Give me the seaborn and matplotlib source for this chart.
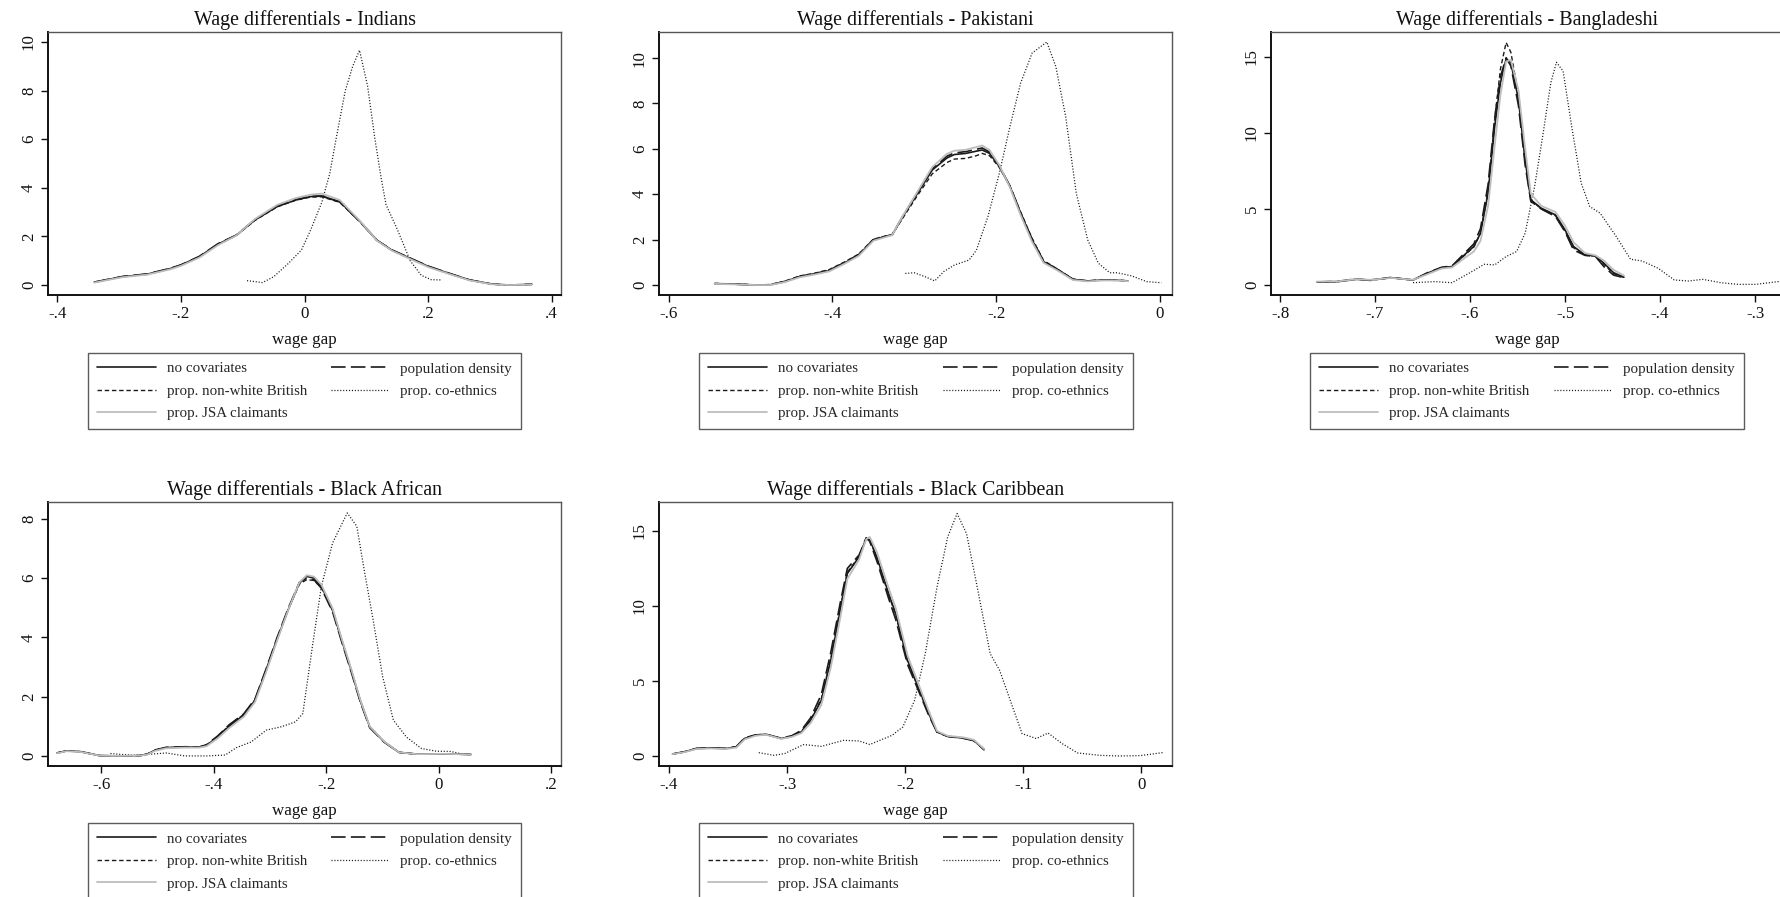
import numpy as np
import pandas as pd
import matplotlib.pyplot as plt
import seaborn as sns
from matplotlib.lines import Line2D
from matplotlib.ticker import FuncFormatter

sns.set_style('ticks')
plt.rcParams['font.family'] = ['Liberation Serif', 'DejaVu Serif']
plt.rcParams['lines.scale_dashes'] = False

# Series names (legend)
labels = {
    'none': 'no covariates',
    'dens': 'population density',
    'nonwhite': 'prop. non-white British',
    'coeth': 'prop. co-ethnics',
    'jsa': 'prop. JSA claimants',
}

# ---- Indians ----
ind_x = [-0.340, -0.295, -0.254, -0.218, -0.200, -0.170, -0.140, -0.110, -0.080, -0.044, -0.014, 0.010,
         0.028, 0.057, 0.090, 0.117, 0.141, 0.177, 0.201, 0.237, 0.267, 0.303, 0.332, 0.368]
ind_none = [0.12, 0.34, 0.45, 0.67, 0.82, 1.17, 1.68, 2.05, 2.68, 3.23, 3.50, 3.64,
            3.66, 3.43, 2.61, 1.85, 1.44, 1.03, 0.76, 0.45, 0.21, 0.04, 0.00, 0.03]
ind_dens = [0.12, 0.35, 0.46, 0.68, 0.83, 1.18, 1.70, 2.06, 2.70, 3.25, 3.52, 3.65,
            3.66, 3.42, 2.60, 1.84, 1.45, 1.04, 0.77, 0.46, 0.21, 0.04, 0.00, 0.03]
ind_nonwhite = [0.11, 0.34, 0.44, 0.66, 0.81, 1.16, 1.67, 2.04, 2.66, 3.22, 3.49, 3.62,
                3.63, 3.40, 2.59, 1.84, 1.43, 1.02, 0.75, 0.44, 0.20, 0.04, 0.00, 0.03]
ind_jsa = [0.10, 0.32, 0.43, 0.64, 0.79, 1.13, 1.64, 2.04, 2.72, 3.30, 3.58, 3.72,
           3.76, 3.50, 2.63, 1.83, 1.42, 1.00, 0.73, 0.43, 0.19, 0.03, 0.00, 0.02]
ind_co_x = [-0.093, -0.080, -0.068, -0.050, -0.026, -0.005, 0.010, 0.028, 0.041, 0.051, 0.066,
            0.078, 0.089, 0.102, 0.114, 0.124, 0.132, 0.150, 0.171, 0.189, 0.205, 0.222]
ind_co = [0.18, 0.14, 0.10, 0.34, 0.89, 1.44, 2.27, 3.40, 4.60, 6.00, 8.00,
          9.00, 9.66, 8.20, 6.00, 4.40, 3.30, 2.30, 1.00, 0.40, 0.22, 0.21]

# ---- Pakistani ----
pak_x = [-0.544, -0.521, -0.494, -0.476, -0.458, -0.440, -0.422, -0.404, -0.386, -0.368, -0.350,
         -0.336, -0.327, -0.314, -0.296, -0.278, -0.260, -0.251, -0.237, -0.224, -0.217, -0.208,
         -0.196, -0.183, -0.170, -0.156, -0.142, -0.124, -0.106, -0.088, -0.070, -0.052, -0.039]
pak_none = [0.06, 0.04, 0.00, 0.01, 0.15, 0.37, 0.49, 0.63, 0.96, 1.32, 1.99,
            2.13, 2.21, 3.01, 4.04, 5.07, 5.60, 5.75, 5.80, 5.90, 5.95, 5.80,
            5.22, 4.34, 3.16, 1.99, 1.03, 0.66, 0.25, 0.18, 0.22, 0.21, 0.18]
pak_dens = [0.06, 0.04, 0.00, 0.01, 0.16, 0.38, 0.50, 0.65, 0.98, 1.34, 2.00,
            2.14, 2.22, 3.03, 4.08, 5.12, 5.68, 5.82, 5.88, 5.98, 6.04, 5.86,
            5.25, 4.36, 3.18, 2.02, 1.05, 0.67, 0.25, 0.18, 0.22, 0.21, 0.18]
pak_nonwhite = [0.07, 0.05, 0.01, 0.02, 0.17, 0.40, 0.52, 0.68, 1.00, 1.36, 2.02,
                2.15, 2.22, 2.95, 3.95, 4.90, 5.40, 5.55, 5.58, 5.70, 5.80, 5.70,
                5.18, 4.36, 3.22, 2.06, 1.08, 0.68, 0.26, 0.18, 0.22, 0.21, 0.18]
pak_jsa = [0.05, 0.03, 0.00, 0.00, 0.13, 0.34, 0.46, 0.60, 0.92, 1.28, 1.95,
           2.10, 2.20, 3.05, 4.12, 5.20, 5.78, 5.92, 5.96, 6.08, 6.15, 5.95,
           5.28, 4.30, 3.08, 1.90, 0.98, 0.62, 0.22, 0.16, 0.20, 0.20, 0.17]
pak_co_x = [-0.311, -0.300, -0.287, -0.275, -0.264, -0.251, -0.233, -0.224, -0.210, -0.196, -0.183, -0.170,
            -0.156, -0.138, -0.127, -0.115, -0.102, -0.088, -0.075, -0.061, -0.052, -0.034, -0.016, 0.002]
pak_co = [0.51, 0.54, 0.37, 0.18, 0.59, 0.88, 1.10, 1.54, 3.01, 4.93, 6.99, 8.90,
          10.22, 10.71, 9.63, 7.43, 4.04, 1.99, 0.96, 0.54, 0.54, 0.40, 0.15, 0.10]

# ---- Bangladeshi ----
bgd_x = [-0.761, -0.739, -0.720, -0.705, -0.683, -0.660, -0.645, -0.630, -0.619, -0.604, -0.596,
         -0.589, -0.581, -0.574, -0.568, -0.562, -0.557, -0.549, -0.542, -0.536, -0.525, -0.510,
         -0.500, -0.491, -0.479, -0.468, -0.459, -0.449, -0.438]
bgd_none = [0.20, 0.22, 0.37, 0.33, 0.48, 0.33, 0.77, 1.14, 1.21, 2.09, 2.53,
            3.40, 6.04, 10.43, 13.29, 14.87, 14.61, 12.19, 8.24, 5.60, 5.05, 4.61,
            3.62, 2.53, 1.98, 1.91, 1.43, 0.81, 0.51]
bgd_dens = [0.20, 0.24, 0.40, 0.30, 0.50, 0.32, 0.80, 1.16, 1.25, 2.20, 2.70,
            3.70, 6.60, 11.00, 13.70, 14.95, 14.40, 11.80, 7.90, 5.50, 5.00, 4.50,
            3.50, 2.30, 1.95, 1.88, 1.20, 0.65, 0.48]
bgd_nonwhite = [0.18, 0.22, 0.38, 0.32, 0.46, 0.32, 0.75, 1.10, 1.20, 2.05, 2.50,
                3.40, 6.20, 10.90, 14.20, 15.95, 15.30, 12.50, 8.30, 5.60, 5.00, 4.55,
                3.55, 2.45, 1.95, 1.90, 1.35, 0.75, 0.50]
bgd_jsa = [0.22, 0.24, 0.38, 0.34, 0.46, 0.34, 0.70, 1.08, 1.15, 1.85, 2.20,
           2.90, 5.20, 9.20, 12.50, 14.70, 14.80, 12.80, 9.00, 6.00, 5.20, 4.80,
           3.90, 2.80, 2.10, 1.95, 1.60, 1.00, 0.62]
bgd_co_x = [-0.660, -0.637, -0.619, -0.600, -0.585, -0.574, -0.562, -0.551, -0.542, -0.532,
            -0.523, -0.515, -0.509, -0.502, -0.493, -0.483, -0.474, -0.463, -0.446, -0.431,
            -0.419, -0.402, -0.385, -0.370, -0.355, -0.336, -0.318, -0.299, -0.276, -0.255]
bgd_co = [0.15, 0.22, 0.15, 0.81, 1.36, 1.32, 1.87, 2.20, 3.40, 6.48,
          9.99, 13.29, 14.65, 14.06, 10.43, 6.70, 5.16, 4.72, 3.18, 1.69,
          1.58, 1.10, 0.33, 0.26, 0.37, 0.15, 0.04, 0.04, 0.22, 0.25]

# ---- Black African ----
baf_x = [-0.679, -0.662, -0.636, -0.603, -0.570, -0.531, -0.518, -0.505, -0.485, -0.452, -0.426,
         -0.413, -0.393, -0.373, -0.347, -0.327, -0.307, -0.288, -0.268, -0.248, -0.235, -0.222,
         -0.209, -0.189, -0.173, -0.156, -0.140, -0.123, -0.097, -0.071, -0.038, 0.008, 0.057]
baf_none = [0.10, 0.17, 0.14, 0.01, 0.00, 0.01, 0.06, 0.19, 0.28, 0.30, 0.30,
            0.36, 0.64, 1.00, 1.38, 1.88, 2.90, 3.92, 4.93, 5.84, 6.06, 6.00,
            5.72, 4.93, 3.92, 2.90, 1.88, 0.98, 0.47, 0.12, 0.06, 0.07, 0.05]
baf_dens = [0.10, 0.17, 0.14, 0.01, 0.00, 0.01, 0.07, 0.20, 0.29, 0.31, 0.30,
            0.38, 0.68, 1.05, 1.42, 1.92, 2.95, 3.98, 4.98, 5.86, 6.00, 5.94,
            5.66, 4.86, 3.86, 2.84, 1.83, 0.95, 0.46, 0.12, 0.06, 0.07, 0.05]
baf_nonwhite = [0.10, 0.17, 0.14, 0.01, 0.00, 0.01, 0.06, 0.19, 0.28, 0.30, 0.30,
                0.37, 0.66, 1.03, 1.40, 1.90, 2.92, 3.94, 4.95, 5.80, 5.95, 5.92,
                5.68, 4.90, 3.90, 2.88, 1.86, 0.97, 0.47, 0.12, 0.06, 0.07, 0.05]
baf_jsa = [0.09, 0.16, 0.13, 0.01, 0.00, 0.01, 0.05, 0.17, 0.26, 0.28, 0.28,
           0.33, 0.60, 0.94, 1.32, 1.82, 2.84, 3.88, 4.92, 5.86, 6.10, 6.05,
           5.78, 4.98, 3.96, 2.94, 1.90, 0.99, 0.48, 0.12, 0.06, 0.07, 0.05]
baf_co_x = [-0.584, -0.544, -0.511, -0.485, -0.452, -0.413, -0.380, -0.360, -0.334, -0.307,
            -0.281, -0.255, -0.242, -0.225, -0.209, -0.189, -0.163, -0.146, -0.133, -0.117,
            -0.100, -0.081, -0.058, -0.031, -0.005, 0.021, 0.038]
baf_co = [0.08, 0.02, 0.06, 0.10, 0.00, 0.00, 0.03, 0.28, 0.47, 0.87,
          0.98, 1.15, 1.43, 3.69, 5.72, 7.19, 8.20, 7.75, 6.29, 4.59,
          2.67, 1.21, 0.64, 0.25, 0.16, 0.15, 0.08]

# ---- Black Caribbean ----
bca_x = [-0.397, -0.387, -0.377, -0.365, -0.352, -0.343, -0.336, -0.327, -0.318, -0.305, -0.296,
         -0.288, -0.280, -0.271, -0.263, -0.255, -0.249, -0.239, -0.233, -0.230, -0.224, -0.214,
         -0.208, -0.198, -0.189, -0.180, -0.173, -0.164, -0.151, -0.142, -0.133]
bca_none = [0.13, 0.27, 0.49, 0.53, 0.49, 0.60, 1.16, 1.38, 1.44, 1.16, 1.31,
            1.60, 2.38, 3.71, 6.38, 9.71, 12.16, 13.27, 14.49, 14.42, 13.27, 10.82,
            9.49, 6.38, 4.60, 2.82, 1.60, 1.31, 1.20, 1.04, 0.42]
bca_dens = [0.13, 0.28, 0.50, 0.54, 0.50, 0.62, 1.20, 1.40, 1.45, 1.18, 1.35,
            1.70, 2.55, 4.10, 6.90, 10.20, 12.50, 13.40, 14.55, 14.30, 13.00, 10.50,
            9.10, 6.10, 4.40, 2.70, 1.58, 1.30, 1.18, 1.02, 0.40]
bca_nonwhite = [0.13, 0.27, 0.49, 0.53, 0.49, 0.61, 1.17, 1.39, 1.44, 1.17, 1.32,
                1.63, 2.42, 3.80, 6.50, 9.85, 12.25, 13.30, 14.50, 14.40, 13.20, 10.75,
                9.40, 6.30, 4.55, 2.80, 1.60, 1.31, 1.20, 1.04, 0.42]
bca_jsa = [0.12, 0.25, 0.46, 0.50, 0.46, 0.56, 1.10, 1.34, 1.42, 1.14, 1.27,
           1.52, 2.20, 3.40, 5.90, 9.20, 11.80, 13.10, 14.45, 14.60, 13.60, 11.20,
           9.85, 6.70, 4.85, 3.00, 1.66, 1.34, 1.24, 1.08, 0.46]
bca_co_x = [-0.324, -0.311, -0.302, -0.286, -0.271, -0.252, -0.239, -0.230, -0.211, -0.202,
            -0.192, -0.183, -0.173, -0.164, -0.156, -0.148, -0.139, -0.128, -0.120, -0.111,
            -0.101, -0.089, -0.079, -0.067, -0.054, -0.035, -0.020, -0.001, 0.018]
bca_co = [0.22, 0.04, 0.16, 0.76, 0.64, 1.04, 1.00, 0.76, 1.38, 1.93,
          3.71, 6.82, 11.27, 14.60, 16.16, 14.82, 11.27, 6.82, 5.71, 3.71,
          1.49, 1.16, 1.53, 0.82, 0.20, 0.04, 0.00, 0.02, 0.22]

# ---------------------------------------------------------------
styles = {
    'none': dict(color='#1a1a1a', linestyle='-', linewidth=1.2),
    'dens': dict(color='#1a1a1a', linestyle=(0, (10.5, 3.8)), linewidth=1.2),
    'nonwhite': dict(color='#1a1a1a', linestyle=(0, (3.2, 2.0)), linewidth=1.0),
    'coeth': dict(color='#1a1a1a', linestyle=(0, (0.8, 1.3)), linewidth=0.9),
    'jsa': dict(color='#bdbdbd', linestyle='-', linewidth=1.3),
}

# axes boxes in pixels (left, top, right, bottom); the third panel runs off the right edge
panels = [
    dict(title='Wage differentials - Indians', box=(48, 32, 561, 295),
         xlim=(-0.415, 0.415), ylim=(-0.41, 10.41),
         xticks=[-0.4, -0.2, 0, 0.2, 0.4], yticks=[0, 2, 4, 6, 8, 10], leg=(88, 353, 521),
         x=ind_x, none=ind_none, dens=ind_dens, nonwhite=ind_nonwhite, jsa=ind_jsa,
         co_x=ind_co_x, co=ind_co),
    dict(title='Wage differentials - Pakistani', box=(659, 32, 1172, 295),
         xlim=(-0.612, 0.015), ylim=(-0.44, 11.15),
         xticks=[-0.6, -0.4, -0.2, 0], yticks=[0, 2, 4, 6, 8, 10], leg=(699, 353, 1133),
         x=pak_x, none=pak_none, dens=pak_dens, nonwhite=pak_nonwhite, jsa=pak_jsa,
         co_x=pak_co_x, co=pak_co),
    dict(title='Wage differentials - Bangladeshi', box=(1271, 32, 1784, 295),
         xlim=(-0.8095, -0.2695), ylim=(-0.66, 16.64),
         xticks=[-0.8, -0.7, -0.6, -0.5, -0.4, -0.3], yticks=[0, 5, 10, 15], leg=(1310, 353, 1744),
         x=bgd_x, none=bgd_none, dens=bgd_dens, nonwhite=bgd_nonwhite, jsa=bgd_jsa,
         co_x=bgd_co_x, co=bgd_co),
    dict(title='Wage differentials - Black African', box=(48, 502, 561, 766),
         xlim=(-0.695, 0.217), ylim=(-0.34, 8.57),
         xticks=[-0.6, -0.4, -0.2, 0, 0.2], yticks=[0, 2, 4, 6, 8], leg=(88, 823, 521),
         x=baf_x, none=baf_none, dens=baf_dens, nonwhite=baf_nonwhite, jsa=baf_jsa,
         co_x=baf_co_x, co=baf_co),
    dict(title='Wage differentials - Black Caribbean', box=(659, 502, 1172, 766),
         xlim=(-0.4085, 0.026), ylim=(-0.67, 16.93),
         xticks=[-0.4, -0.3, -0.2, -0.1, 0], yticks=[0, 5, 10, 15], leg=(699, 823, 1133),
         x=bca_x, none=bca_none, dens=bca_dens, nonwhite=bca_nonwhite, jsa=bca_jsa,
         co_x=bca_co_x, co=bca_co),
]

W, H = 1780, 897
fig = plt.figure(figsize=(W / 100, H / 100), dpi=100)


def stata_fmt(v, pos):
    if abs(v) < 1e-9:
        return '0'
    s = f'{round(v, 6):g}'
    return s.replace('0.', '.')


for p in panels:
    l, t, r, b = p['box']
    ax = fig.add_axes([l / W, 1 - b / H, (r - l) / W, (b - t) / H])

    sns.lineplot(x=p['x'], y=p['none'], ax=ax, estimator=None, sort=False, **styles['none'])
    sns.lineplot(x=p['x'], y=p['dens'], ax=ax, estimator=None, sort=False, **styles['dens'])
    sns.lineplot(x=p['x'], y=p['nonwhite'], ax=ax, estimator=None, sort=False, **styles['nonwhite'])
    sns.lineplot(x=p['co_x'], y=p['co'], ax=ax, estimator=None, sort=False, **styles['coeth'])
    sns.lineplot(x=p['x'], y=p['jsa'], ax=ax, estimator=None, sort=False, **styles['jsa'])

    ax.set_xlim(*p['xlim'])
    ax.set_ylim(*p['ylim'])
    ax.set_xticks(p['xticks'])
    ax.set_yticks(p['yticks'])
    ax.xaxis.set_major_formatter(FuncFormatter(stata_fmt))
    ax.yaxis.set_major_formatter(FuncFormatter(stata_fmt))
    ax.tick_params(axis='both', direction='out', length=5, width=1.0, color='#111',
                   labelsize=12.2, labelcolor='#111')
    ax.tick_params(axis='x', pad=3)
    ax.tick_params(axis='y', pad=3, labelrotation=90)
    for lab in ax.get_yticklabels():
        lab.set_verticalalignment('center')

    for side in ['top', 'right']:
        ax.spines[side].set_color('#555')
        ax.spines[side].set_linewidth(1.0)
    for side in ['bottom', 'left']:
        ax.spines[side].set_color('#111')
        ax.spines[side].set_linewidth(1.4)

    ax.set_title(p['title'], fontsize=14.4, pad=5, color='#111')
    ax.set_xlabel('wage gap', fontsize=12.2, labelpad=7, color='#111')
    ax.set_ylabel('')

    order = ['none', 'nonwhite', 'jsa', 'dens', 'coeth']
    handles = [Line2D([0], [0], **styles[k]) for k in order]
    ll, lt, lr = p['leg']
    leg = fig.legend(handles, [labels[k] for k in order], ncol=2,
                     loc='upper left', bbox_to_anchor=(ll / W, 1 - lt / H, (lr - ll) / W, 0),
                     mode='expand', borderaxespad=0, fontsize=10.8, frameon=True,
                     fancybox=False, handlelength=3.9, handletextpad=0.75,
                     labelspacing=0.6, borderpad=0.6, columnspacing=1.5)
    leg.get_frame().set_edgecolor('#333')
    leg.get_frame().set_linewidth(1.0)

fig.savefig('out.png', dpi=100)
